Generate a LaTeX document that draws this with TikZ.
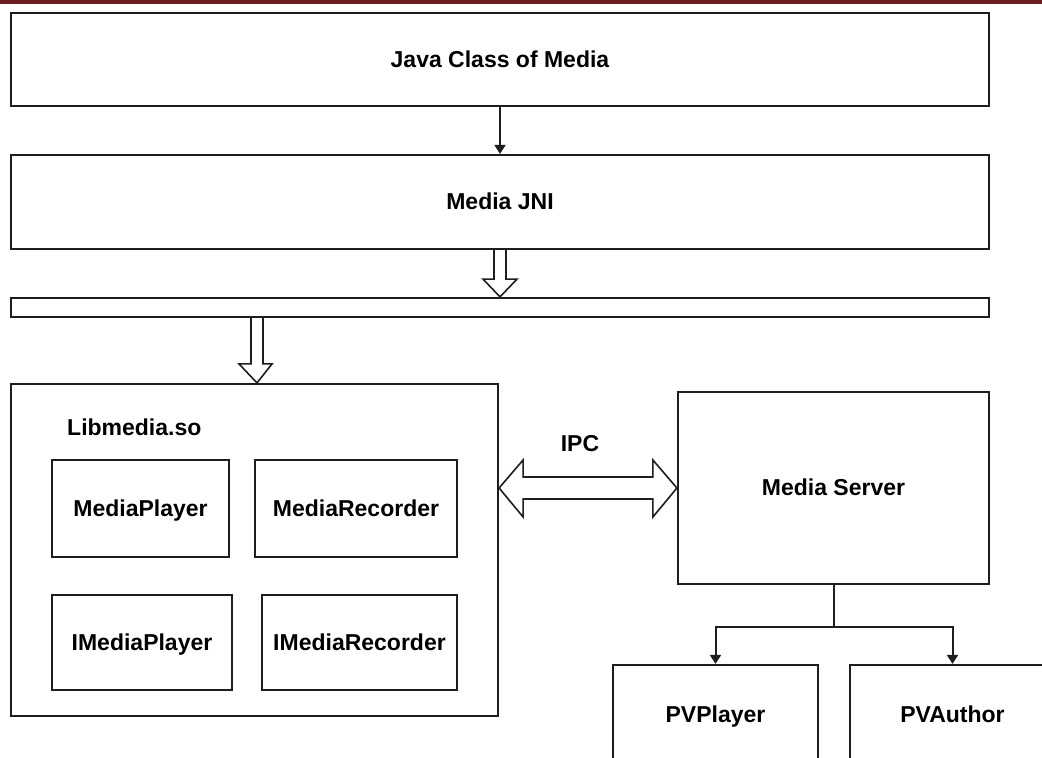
\documentclass[tikz,border=0pt]{standalone}
\usepackage{fontspec}
\setmainfont{Liberation Sans}
\usetikzlibrary{calc,arrows.meta}
\definecolor{topband}{HTML}{6B1F22}
\definecolor{linec}{HTML}{1E1E1E}
\begin{document}
\begin{tikzpicture}[x=1pt,y=-1pt,
  box/.style={draw=linec,line width=2.2pt,fill=white,inner sep=0pt,
    text height=20pt,text depth=4.5pt,
    font=\fontsize{23}{27}\selectfont\bfseries},
  lbl/.style={inner sep=0pt,font=\fontsize{23}{27}\selectfont\bfseries},
  hollow/.style={draw=linec,line width=1.6pt,fill=white,line join=miter},
  conn/.style={draw=linec,line width=2pt,-{Triangle[width=11pt,length=9pt]}}]
\useasboundingbox (0,0) rectangle (1042,758);
\clip (0,0) rectangle (1042,758);
\fill[white] (0,0) rectangle (1042,758);
\fill[topband] (0,0) rectangle (1042,3.5);
% top layers
\node[box,minimum width=978pt,minimum height=93pt] (java) at (500,59.5) {Java Class of Media};
\node[box,minimum width=978pt,minimum height=94pt] (jni) at (500,202) {Media JNI};
\node[box,minimum width=978pt,minimum height=19pt,text height=0pt,text depth=0pt] (bar) at (500,307.5) {};
\draw[conn] (java.south) -- (jni.north);
% hollow arrow jni -> bar
\draw[hollow] ($(jni.south)+(-6,0)$) -- ($(jni.south)+(-6,29)$) -- ($(jni.south)+(-17,29)$)
  -- (bar.north) -- ($(jni.south)+(17,29)$) -- ($(jni.south)+(6,29)$) -- ($(jni.south)+(6,0)$);
% libmedia
\node[box,minimum width=487pt,minimum height=332pt] (lib) at (254.5,550) {};
\coordinate (a2top) at (bar.south -| 257,0);
\coordinate (a2tip) at (lib.north -| 257,0);
\draw[hollow] ($(a2top)+(-6,0)$) -- ($(a2tip)+(-6,-19)$) -- ($(a2tip)+(-18,-19)$)
  -- (a2tip) -- ($(a2tip)+(15,-19)$) -- ($(a2tip)+(6,-19)$) -- ($(a2top)+(6,0)$);
\node[lbl,anchor=west] (libl) at (67,427) {Libmedia.so};
\node[box,minimum width=177pt,minimum height=97pt] (mp) at (140.5,508.5) {MediaPlayer};
\node[box,minimum width=202pt,minimum height=97pt] (mr) at (356,508.5) {MediaRecorder};
\node[box,minimum width=180pt,minimum height=95pt] (imp) at (142,642.5) {IMediaPlayer};
\node[box,minimum width=195pt,minimum height=95pt] (imr) at (359.5,642.5) {IMediaRecorder};
% media server
\node[box,minimum width=311pt,minimum height=192pt] (ms) at (833.5,488) {Media Server};
\node[lbl] (ipc) at (580,444) {IPC};
\coordinate (L) at (lib.east |- ms.west);
\coordinate (R) at (ms.west);
\draw[hollow] (L) -- ($(L)+(24,-28)$) -- ($(L)+(24,-11)$) -- ($(R)+(-24,-11)$) -- ($(R)+(-24,-28)$)
  -- (R) -- ($(R)+(-24,29)$) -- ($(R)+(-24,11)$) -- ($(L)+(24,11)$) -- ($(L)+(24,29)$) -- cycle;
% PV boxes
\node[box,minimum width=205pt,minimum height=100pt] (pvp) at (715.5,715) {PVPlayer};
\node[box,minimum width=205pt,minimum height=100pt] (pva) at (952.5,715) {PVAuthor};
\draw[draw=linec,line width=2pt] (ms.south) -- ($(ms.south)+(0,42)$) coordinate (j);
\draw[conn] (j) -| (pvp.north);
\draw[conn] (j) -| (pva.north);
\end{tikzpicture}
\end{document}
